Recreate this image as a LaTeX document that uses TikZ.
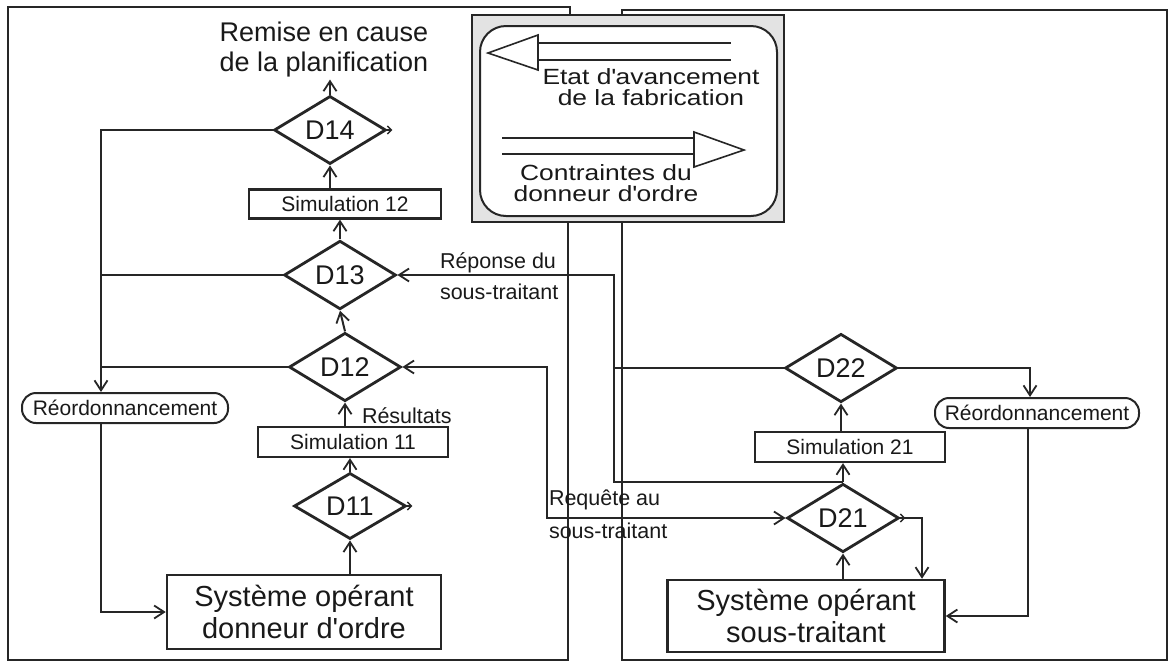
\documentclass[tikz,border=0pt]{standalone}
\usepackage{fontspec}
\setmainfont{Liberation Sans}
\newfontfamily\legfont[FakeStretch=1.2]{Liberation Sans}
\usetikzlibrary{shapes.geometric,arrows.meta}
\newcommand{\aq}{\textquotesingle}
\begin{document}
\begin{tikzpicture}[x=1pt,y=-1pt,
  line width=2pt, draw=black!85, text=black!90,
  arr/.style={-{Straight Barb[length=10pt,width=13pt,line width=1.8pt]}},
  biarr/.style={{Straight Barb[length=10pt,width=13pt,line width=1.8pt]}-{Straight Barb[length=10pt,width=13pt,line width=1.8pt]}},
  tinyarr/.style={-{Straight Barb[length=4pt,width=8pt,line width=1.5pt]}},
  dia/.style={diamond, draw, line width=2.8pt, minimum width=112pt, minimum height=56pt, inner sep=0pt, font=\fontsize{27}{30}\selectfont},
  sim/.style={rectangle, draw, line width=2.2pt, minimum width=192pt, minimum height=29pt, inner sep=0pt, font=\fontsize{21}{24}\selectfont},
  sys/.style={rectangle, draw, line width=2.5pt, minimum width=274pt, minimum height=74pt, align=center, inner sep=0pt, font=\fontsize{29}{32}\selectfont},
  reord/.style={rectangle, rounded corners=14pt, draw, line width=2pt, minimum width=206pt, minimum height=30pt, inner sep=0pt, font=\fontsize{21}{24}\selectfont},
  lbl/.style={font=\fontsize{21.5}{24}\selectfont, inner sep=0pt},
  legtxt/.style={font=\legfont\fontsize{22}{21}\selectfont, align=center, inner sep=0pt},
  frame/.style={line width=1.8pt},
]
\useasboundingbox (0,0) rectangle (1171,665);

% frames
\draw[frame] (570,15) -- (570,7) -- (8,7) -- (8,660) -- (568,660) -- (568,222);
\draw[frame] (622,222) -- (622,660) -- (1167,660) -- (1167,10) -- (622,10) -- (622,15);

% legend
\draw[frame, fill=gray!22] (472,15) rectangle (784,222);
\draw[line width=2pt, fill=white, rounded corners=26pt] (480,26) rectangle (777,216);
\draw[line width=1.6pt] (538,43) -- (731,43) (538,60) -- (731,60);
\draw[line width=1.6pt, fill=white] (538,35) -- (488,53) -- (538,70) -- cycle;
\draw[line width=1.6pt] (502,138) -- (694,138) (502,154) -- (694,154);
\draw[line width=1.6pt, fill=white] (694,132) -- (744,150) -- (694,167) -- cycle;
\node[legtxt] (leg1) at (651,87) {Etat d\aq avancement\\de la fabrication};
\node[legtxt] (leg2) at (606,183) {Contraintes du\\donneur d\aq ordre};

% left column
\node[font=\fontsize{27}{30}\selectfont, align=center, inner sep=1pt] (rem) at (324,50) {Remise en cause\\de la planification};
\node[dia] (D14) at (330,130) {D14};
\node[sim] (S12) at (345,204) {Simulation 12};
\node[dia] (D13) at (340,275) {D13};
\node[dia] (D12) at (345,367) {D12};
\node[sim, minimum width=190pt, minimum height=30pt] (S11) at (353,442) {Simulation 11};
\node[dia] (D11) at (350,506) {D11};
\node[sys] (SY1) at (304,612) {Système opérant\\donneur d\aq ordre};
\node[reord] (R1) at (125,408) {Réordonnancement};

% right column
\node[dia] (D22) at (841,368) {D22};
\node[sim, minimum width=190pt, minimum height=30pt] (S21) at (850,447) {Simulation 21};
\node[reord, minimum width=204pt] (R2) at (1037,413) {Réordonnancement};
\node[dia] (D21) at (843,518) {D21};
\node[sys, minimum width=277pt, minimum height=72pt] (SY2) at (806,616) {Système opérant\\sous-traitant};

% labels
\node[lbl, anchor=west] (rep1) at (439,263) {Réponse du};
\node[lbl, anchor=west] (rep2) at (439,292) {sous-traitant};
\node[lbl, anchor=west] (req1) at (548,500) {Requête au};
\node[lbl, anchor=west] (req2) at (548,531) {sous-traitant};

\coordinate (colL) at (101,0);
\coordinate (colR) at (614,0);
\coordinate (colQ) at (547,0);

% left flow
\draw[arr] (SY1.north -| D11.south) -- (D11.south);
\draw[arr] (D11.north) -- (D11.north |- S11.south);
\draw[arr] (S11.north -| D12.south) -- (D12.south) node[lbl, pos=0.45, right=16pt] (res) {Résultats};
\draw[arr] (D12.north) -- (D13.south);
\draw[arr] (D13.north) -- (D13.north |- S12.south);
\draw[arr] (S12.north -| D14.south) -- (D14.south);
\draw[arr] (D14.north) -- (D14.north |- rem.south);
\draw[tinyarr] (D14.east) -- ++(5,0);
\draw[tinyarr] (D11.east) -- ++(5,0);

\draw[arr] (D14.west) -- (D14.west -| colL) -- (R1.north -| colL);
\draw (D13.west) -- (D13.west -| colL);
\draw (D12.west) -- (D12.west -| colL);
\draw[arr] (R1.south -| colL) |- (SY1.west);

% exchanges
\draw[biarr] (D12.east) -- (D12.east -| colQ) |- (D21.west);
\draw[arr] (D21.north) -- (D21.north -| colR) |- (D13.east);
\draw (D22.west) -- (D22.west -| colR);

% right flow
\draw[arr] (D21.north) -- (D21.north |- S21.south);
\draw[arr] (S21.north -| D22.south) -- (D22.south);
\draw[arr] (D22.east) -| ([xshift=-7pt]R2.north);
\draw[arr] ([xshift=-9pt]R2.south) |- (SY2.east);
\draw[arr] (D21.east) -| ([xshift=116pt]SY2.north);
\draw[tinyarr] (D21.east) -- ++(5,0);
\draw[arr] (SY2.north -| D21.south) -- (D21.south);
\end{tikzpicture}
\end{document}
